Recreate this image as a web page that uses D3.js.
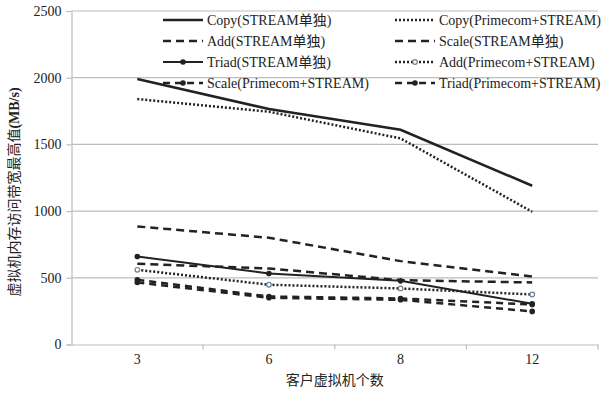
<!DOCTYPE html>
<html>
<head>
<meta charset="utf-8">
<script src="https://cdn.jsdelivr.net/npm/d3@7"></script>
<style>
  body { margin: 0; background: #fff; }
  text { font-family: "Liberation Serif", "Noto Sans CJK SC", serif; fill: #222; }
</style>
</head>
<body>
<div id="chart"></div>
<script>
// categories (number of client VMs)
var categories = ["3", "6", "8", "12"];

// peak memory bandwidth (MB/s) per series
var copyStream   = [1990, 1765, 1610, 1190];
var copyPrime    = [1840, 1745, 1545, 995];
var addStream    = [885, 800, 625, 510];
var scaleStream  = [605, 570, 482, 465];
var triadStream  = [660, 532, 477, 305];
var addPrime     = [560, 448, 420, 375];
var scalePrime   = [485, 360, 345, 300];
var triadPrime   = [465, 350, 335, 248];

var yTicks = [0, 500, 1000, 1500, 2000, 2500];

var seriesNames = [
    "Copy(STREAM单独)", "Copy(Primecom+STREAM)",
    "Add(STREAM单独)", "Scale(STREAM单独)",
    "Triad(STREAM单独)", "Add(Primecom+STREAM)",
    "Scale(Primecom+STREAM)", "Triad(Primecom+STREAM)"
];
var seriesValues = [copyStream, copyPrime, addStream, scaleStream,
                    triadStream, addPrime, scalePrime, triadPrime];

// line look for each series (same order as names)
var styles = [
    { dash: null,  width: 2.5, marker: null },
    { dash: "2,2", width: 2.5, marker: null },
    { dash: "8,5", width: 2.5, marker: null },
    { dash: "8,5", width: 2.5, marker: null },
    { dash: null,  width: 2,   marker: "filled" },
    { dash: "2,2", width: 2.5, marker: "hollow" },
    { dash: "7,5", width: 2.5, marker: "filled" },
    { dash: "7,5", width: 2.5, marker: "filled" }
];

var width = 615, height = 395;
var plotLeft = 71.5, plotRight = 598, plotTop = 11, plotBottom = 344.5;

var svg = d3.select("#chart").append("svg")
    .attr("width", width)
    .attr("height", height);

var x = d3.scaleBand().domain(categories).range([plotLeft, plotRight]).padding(0);
var y = d3.scaleLinear().domain([0, 2500]).range([plotBottom, plotTop]);

// horizontal gridlines
svg.append("g")
    .selectAll("line")
    .data(yTicks.filter(function(d) { return d > 0; }))
    .enter().append("line")
    .attr("x1", plotLeft).attr("x2", plotRight)
    .attr("y1", function(d) { return y(d); })
    .attr("y2", function(d) { return y(d); })
    .attr("stroke", "#bdbdbd")
    .attr("stroke-width", 1.2);

// y axis
var yAxis = svg.append("g")
    .attr("transform", "translate(" + plotLeft + ",0)")
    .call(d3.axisLeft(y).tickValues(yTicks).tickFormat(d3.format("d")).tickSize(5).tickPadding(5));
yAxis.select(".domain").attr("stroke", "#bdbdbd").attr("stroke-width", 1.2);
yAxis.selectAll(".tick line").attr("stroke", "#bdbdbd").attr("stroke-width", 1.2);
yAxis.selectAll(".tick text").style("font-size", "14px").attr("fill", "#222");

// x axis: labels at band centres, ticks at band edges
var xAxis = svg.append("g")
    .attr("transform", "translate(0," + plotBottom + ")")
    .call(d3.axisBottom(x).tickSize(0).tickPadding(10));
xAxis.select(".domain").attr("stroke", "#bdbdbd").attr("stroke-width", 1.2);
xAxis.selectAll(".tick text").style("font-size", "14px").attr("fill", "#222");
xAxis.selectAll(".edge")
    .data(categories)
    .enter().append("line")
    .attr("class", "edge")
    .attr("x1", function(d) { return x(d) + x.bandwidth(); })
    .attr("x2", function(d) { return x(d) + x.bandwidth(); })
    .attr("y1", 0).attr("y2", 5)
    .attr("stroke", "#bdbdbd")
    .attr("stroke-width", 1.2);

// axis titles
svg.append("text")
    .attr("x", (plotLeft + plotRight) / 2)
    .attr("y", 385)
    .attr("text-anchor", "middle")
    .style("font-size", "14px")
    .attr("fill", "#333")
    .text("客户虚拟机个数");

var yTitle = svg.append("text")
    .attr("transform", "translate(19," + 192 + ") rotate(-90)")
    .attr("text-anchor", "middle")
    .style("font-size", "14px")
    .attr("fill", "#333");
yTitle.append("tspan").text("虚拟机内存访问带宽最高值");
yTitle.append("tspan").style("font-weight", "bold").text("(MB/s)");

// lines
var line = d3.line()
    .x(function(d, i) { return x(categories[i]) + x.bandwidth() / 2; })
    .y(function(d) { return y(d); });

function drawMarker(g, kind, cx, cy) {
    if (kind === "filled") {
        g.append("circle").attr("cx", cx).attr("cy", cy).attr("r", 2.8)
            .attr("fill", "#222");
    } else if (kind === "hollow") {
        g.append("circle").attr("cx", cx).attr("cy", cy).attr("r", 2.3)
            .attr("fill", "#fff").attr("stroke", "#6b7f95").attr("stroke-width", 1.2);
    }
}

var plot = svg.append("g");
seriesValues.forEach(function(vals, k) {
    var st = styles[k];
    plot.append("path")
        .datum(vals)
        .attr("d", line)
        .attr("fill", "none")
        .attr("stroke", "#222")
        .attr("stroke-width", st.width)
        .attr("stroke-dasharray", st.dash);
    if (st.marker) {
        vals.forEach(function(v, i) {
            drawMarker(plot, st.marker, x(categories[i]) + x.bandwidth() / 2, y(v));
        });
    }
});

// legend, two columns
var legend = svg.append("g");
seriesNames.forEach(function(name, k) {
    var col = k % 2, row = Math.floor(k / 2);
    var lx = col === 0 ? 163 : 395;
    var ly = 20 + row * 21;
    var st = styles[k];
    var g = legend.append("g");
    g.append("line")
        .attr("x1", lx).attr("x2", lx + 40)
        .attr("y1", ly).attr("y2", ly)
        .attr("stroke", "#222")
        .attr("stroke-width", st.width)
        .attr("stroke-dasharray", st.dash);
    if (st.marker) drawMarker(g, st.marker, lx + 20, ly);
    g.append("text")
        .attr("x", lx + 44)
        .attr("y", ly)
        .attr("dy", "0.35em")
        .style("font-size", "14px")
        .text(name);
});
</script>
</body>
</html>
